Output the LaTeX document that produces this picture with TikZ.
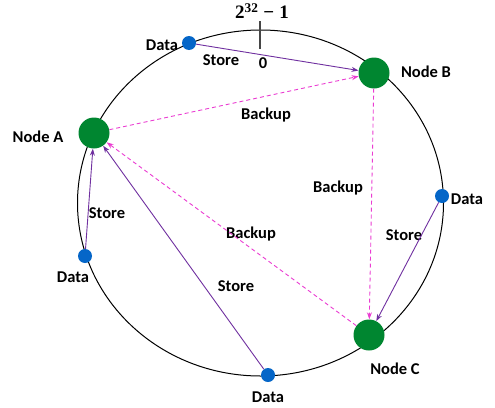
\documentclass[tikz,border=0pt]{standalone}
\usepackage{fontspec}
\setmainfont{Carlito}[BoldFont={Carlito Bold}]
\newfontfamily\serifbold{Liberation Serif}
\usetikzlibrary{arrows.meta}
\definecolor{nodegreen}{RGB}{0,134,48}
\definecolor{datablue}{RGB}{5,102,200}
\definecolor{storepurple}{RGB}{112,48,160}
\definecolor{backupmag}{RGB}{235,60,210}
\definecolor{tickgray}{RGB}{70,70,70}
\tikzset{
  ringnode/.style={circle,fill=nodegreen,draw=none,minimum size=31pt,inner sep=0pt},
  datadot/.style={circle,fill=datablue,draw=none,minimum size=14pt,inner sep=0pt},
  lbl/.style={font=\fontsize{16.5}{19}\selectfont\bfseries,inner sep=0pt},
  mathlbl/.style={font=\fontsize{19}{22}\selectfont\serifbold\bfseries,inner sep=0pt},
  storearrow/.style={draw=storepurple,line width=0.9pt,-{Stealth[length=7pt,width=5pt]}},
  backuparrow/.style={draw=backupmag,line width=0.9pt,dashed,dash pattern=on 4pt off 3pt,-{Stealth[length=7pt,width=5pt]}}
}
\begin{document}
\begin{tikzpicture}[x=1pt,y=-1pt]
\useasboundingbox (0,0) rectangle (495,407);
\fill[white] (0,0) rectangle (495,407);
% ring
\draw[black,line width=1pt] (260.5,203) ellipse [x radius=183, y radius=173];
% tick
\coordinate (tt) at (260,21);
\coordinate (tb) at (260,49);
\draw[tickgray,line width=2pt] (tt) -- (tb);
\node[mathlbl] (top) at (262,11) {2\textsuperscript{32}\hspace{5pt}−\hspace{5pt}1};
\node[lbl] (zero) at (263,63) {0};
% nodes
\node[ringnode] (A) at (94,133) {};
\node[ringnode] (B) at (374,73) {};
\node[ringnode] (C) at (369,335) {};
% data
\node[datadot] (d1) at (189,43) {};
\node[datadot] (d2) at (85,256) {};
\node[datadot] (d3) at (268,375) {};
\node[datadot] (d4) at (442,196) {};
% labels
\node[lbl] (lA) at (38,137) {Node A};
\node[lbl] (lB) at (426,72) {Node B};
\node[lbl] (lC) at (395,369) {Node C};
\node[lbl] (ld1) at (162,45) {Data};
\node[lbl] (ld2) at (73,277) {Data};
\node[lbl] (ld3) at (268,397) {Data};
\node[lbl] (ld4) at (467,199) {Data};
\node[lbl] (s1) at (221,60) {Store};
\node[lbl] (s2) at (107,213) {Store};
\node[lbl] (s3) at (236,286) {Store};
\node[lbl] (s4) at (404,235) {Store};
\node[lbl] (b1) at (266,115) {Backup};
\node[lbl] (b2) at (338,188) {Backup};
\node[lbl] (b3) at (251,234) {Backup};
% backup connectors
\draw[backuparrow] (A) -- (B);
\draw[backuparrow] (B) -- (C);
\draw[backuparrow] (C) -- (A);
% store connectors
\draw[storearrow] (d1) -- (B);
\draw[storearrow] (d2) -- (A);
\draw[storearrow] (d3) -- (A);
\draw[storearrow] (d4) -- (C);
\end{tikzpicture}
\end{document}
